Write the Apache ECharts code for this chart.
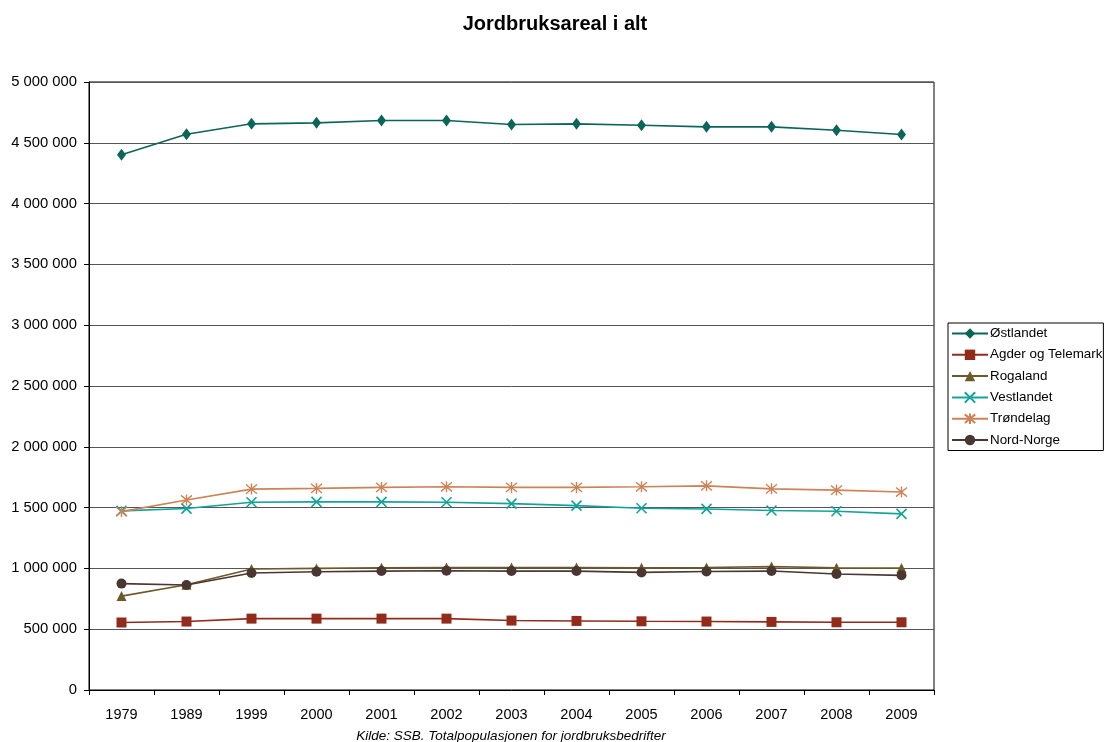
<!DOCTYPE html>
<html>
<head>
<meta charset="utf-8">
<script src="https://cdn.jsdelivr.net/npm/echarts@6/dist/echarts.min.js"></script>
<style>
html,body{margin:0;padding:0;background:#fff;}
#chart{width:1105px;height:742px;}
</style>
</head>
<body>
<div id="chart"></div>
<script>
const years = ['1979','1989','1999','2000','2001','2002','2003','2004','2005','2006','2007','2008','2009'];
const ostlandet = [4401000,4571000,4656000,4664000,4683000,4683000,4650000,4656000,4644000,4631000,4631000,4603000,4568000];
const agder = [555000,563000,587000,587000,587000,587000,571000,568000,565000,563000,560000,557000,557000];
const rogaland = [772000,865000,995000,1000000,1005000,1008000,1007000,1007000,1005000,1008000,1015000,1005000,1003000];
const vestlandet = [1473000,1492000,1544000,1547000,1547000,1544000,1533000,1516000,1495000,1489000,1476000,1470000,1448000];
const trondelag = [1467000,1563000,1652000,1658000,1666000,1671000,1666000,1666000,1671000,1679000,1654000,1644000,1628000];
const nordNorge = [875000,864000,962000,973000,978000,981000,978000,978000,967000,975000,978000,954000,943000];
const seriesNames = ['Østlandet','Agder og Telemark','Rogaland','Vestlandet','Trøndelag','Nord-Norge'];
const yTicks = [0,500000,1000000,1500000,2000000,2500000,3000000,3500000,4000000,4500000,5000000];

const FONT = '"Liberation Sans", Arial, sans-serif';
function fmt(v){ return String(v).replace(/\B(?=(\d{3})+(?!\d))/g,' '); }

const xPath = 'path://M0,0L10,10M10,0L0,10';
const starPath = 'path://M0,0L10,10M10,0L0,10M5,-1L5,11';

function mk(name, data, color, symbol, size, extra){
  const s = {
    name: name, type: 'line', data: data,
    symbol: symbol, symbolSize: size,
    lineStyle: {color: color, width: 1.6},
    itemStyle: {color: color},
    emphasis: {disabled: true},
    z: 3
  };
  if (extra) Object.assign(s.itemStyle, extra);
  return s;
}

const chart = echarts.init(document.getElementById('chart'), null, {renderer:'canvas'});
chart.setOption({
  animation: false,
  backgroundColor: '#fff',
  title: [{
    text: 'Jordbruksareal i alt',
    left: 550, top: 9, textAlign: 'center',
    textStyle: {fontFamily: FONT, fontSize: 20, fontWeight: 'bold', color: '#000'}
  },{
    text: 'Kilde: SSB. Totalpopulasjonen for jordbruksbedrifter',
    left: 506, top: 724, textAlign: 'center',
    textStyle: {fontFamily: FONT, fontSize: 13.5, fontStyle: 'italic', fontWeight: 'normal', color: '#000'}
  }],
  legend: {
    orient: 'vertical',
    left: 948, top: 323,
    padding: [3, 1, 3, 3],
    itemWidth: 36, itemHeight: 13, itemGap: 6.3,
    borderColor: '#000', borderWidth: 1,
    data: seriesNames,
    textStyle: {fontFamily: FONT, fontSize: 13.4, color: '#000', lineHeight: 15, padding: [0,0,0,-3]}
  },
  grid: {
    left: 89, right: 171, top: 82, bottom: 52,
    show: true, borderColor: '#000', borderWidth: 1, containLabel: false
  },
  xAxis: {
    type: 'category', data: years, boundaryGap: true,
    axisLine: {lineStyle: {color: '#000', width: 1}},
    axisTick: {show: true, length: 5, lineStyle: {color: '#000'}},
    axisLabel: {fontFamily: FONT, fontSize: 14.5, color: '#000', margin: 17},
    splitLine: {show: false}
  },
  yAxis: {
    type: 'value', min: yTicks[0], max: yTicks[yTicks.length-1], interval: yTicks[1]-yTicks[0],
    axisLine: {show: true, lineStyle: {color: '#000', width: 1}},
    axisTick: {show: true, length: 5, lineStyle: {color: '#000'}},
    axisLabel: {fontFamily: FONT, fontSize: 14.8, color: '#000', margin: 12, formatter: fmt},
    splitLine: {show: true, lineStyle: {color: '#555', width: 1}}
  },
  series: [
    mk(seriesNames[0], ostlandet, '#0B6659', 'diamond', [9,12]),
    mk(seriesNames[1], agder, '#932B1B', 'rect', 10),
    mk(seriesNames[2], rogaland, '#6E5A27', 'triangle', 10),
    mk(seriesNames[3], vestlandet, '#14A39A', xPath, 10, {borderColor:'#14A39A', borderWidth:1.6}),
    mk(seriesNames[4], trondelag, '#CD8356', starPath, 11, {borderColor:'#CD8356', borderWidth:1.4}),
    mk(seriesNames[5], nordNorge, '#4A3731', 'circle', 10)
  ]
});
</script>
</body>
</html>
